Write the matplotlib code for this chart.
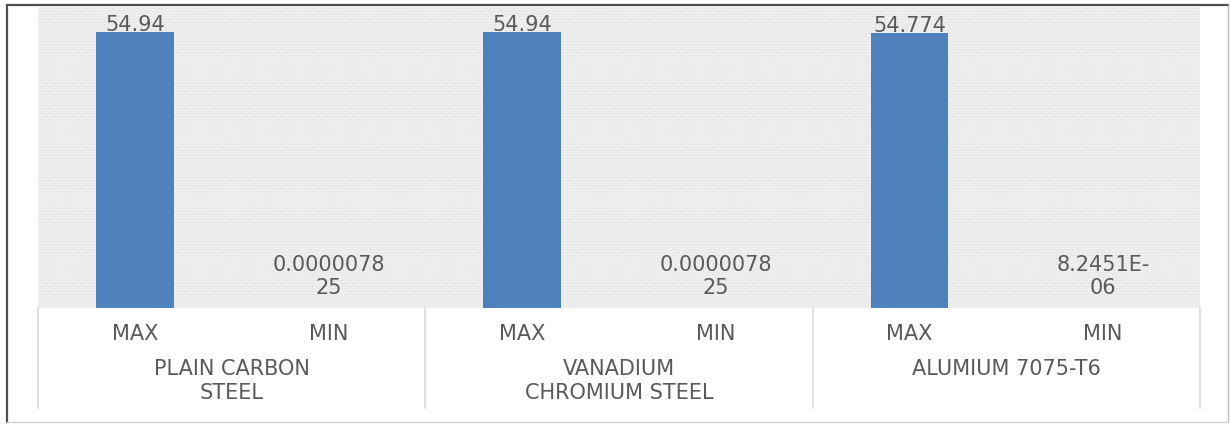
import matplotlib.pyplot as plt
from matplotlib.patches import Rectangle
from matplotlib.lines import Line2D

# Data
materials = ['PLAIN CARBON\nSTEEL', 'VANADIUM\nCHROMIUM STEEL', 'ALUMIUM 7075-T6']
series = ['MAX', 'MIN']
max_vals = [54.94, 54.94, 54.774]
min_vals = [0.000007825, 0.000007825, 0.0000082451]
max_labels = ['54.94', '54.94', '54.774']
min_labels = ['0.0000078\n25', '0.0000078\n25', '8.2451E-\n06']

txt_color = '#5a5a5a'
bar_color = '#4f81bd'
fs = 15

plt.rcParams['hatch.color'] = '#dcdcdc'
plt.rcParams['hatch.linewidth'] = 0.4

fig = plt.figure(figsize=(12.31, 4.25), dpi=100)
ax = fig.add_axes([38 / 1231, 117 / 425, 1162 / 1231, 301 / 425])

# positions: MAX and MIN slot for each material
x_max = [2 * i for i in range(len(materials))]
x_min = [2 * i + 1 for i in range(len(materials))]

# patterned plot area
bg = Rectangle((0, 0), 1, 1, transform=ax.transAxes, facecolor='#efefef',
               edgecolor='#dcdcdc', lw=0, hatch='......', zorder=0)
ax.add_patch(bg)
ax.patch.set_visible(False)

ax.bar(x_max, max_vals, width=0.4, color=bar_color, zorder=2)
ax.bar(x_min, min_vals, width=0.4, color=bar_color, zorder=2)

ax.set_xlim(-0.5, 2 * len(materials) - 0.5)
ax.set_ylim(0, 60)

# data labels
for x, v, lab in zip(x_max, max_vals, max_labels):
    ax.annotate(lab, (x, v), xytext=(0, -2.2), textcoords='offset points',
                ha='center', va='bottom', fontsize=fs, color=txt_color)
for x, v, lab in zip(x_min, min_vals, min_labels):
    ax.annotate(lab, (x, v), xytext=(0, 7), textcoords='offset points',
                ha='center', va='bottom', fontsize=fs, color=txt_color,
                linespacing=1.2)

ax.set_xticks([])
ax.set_yticks([])
for s in ax.spines.values():
    s.set_visible(False)

# category labels (two level axis)
tr = ax.get_xaxis_transform()
for i in range(len(materials)):
    ax.text(x_max[i], -26 / 301, series[0], transform=tr, ha='center', va='center',
            fontsize=fs, color=txt_color)
    ax.text(x_min[i], -26 / 301, series[1], transform=tr, ha='center', va='center',
            fontsize=fs, color=txt_color)
    ax.text(x_max[i] + 0.5, -51 / 301, materials[i], transform=tr, ha='center',
            va='top', fontsize=fs, color=txt_color, linespacing=1.25)

# separators
for b in range(len(materials) + 1):
    ax.plot([2 * b - 0.5, 2 * b - 0.5], [0, -100 / 301], transform=tr,
            color='#d9d9d9', lw=1.2, clip_on=False)

# outer frame
l, r, t, bt = 7 / 1231, 1228 / 1231, 420 / 425, 3 / 425
fig.add_artist(Line2D([l, r], [t, t], color='#505050', lw=1.6))
fig.add_artist(Line2D([l, l], [bt, t], color='#505050', lw=1.6))
fig.add_artist(Line2D([r, r], [bt, t], color='#bfbfbf', lw=1.0))
fig.add_artist(Line2D([l, r], [bt, bt], color='#d0d0d0', lw=1.0))

fig.savefig('out.png', dpi=100)
